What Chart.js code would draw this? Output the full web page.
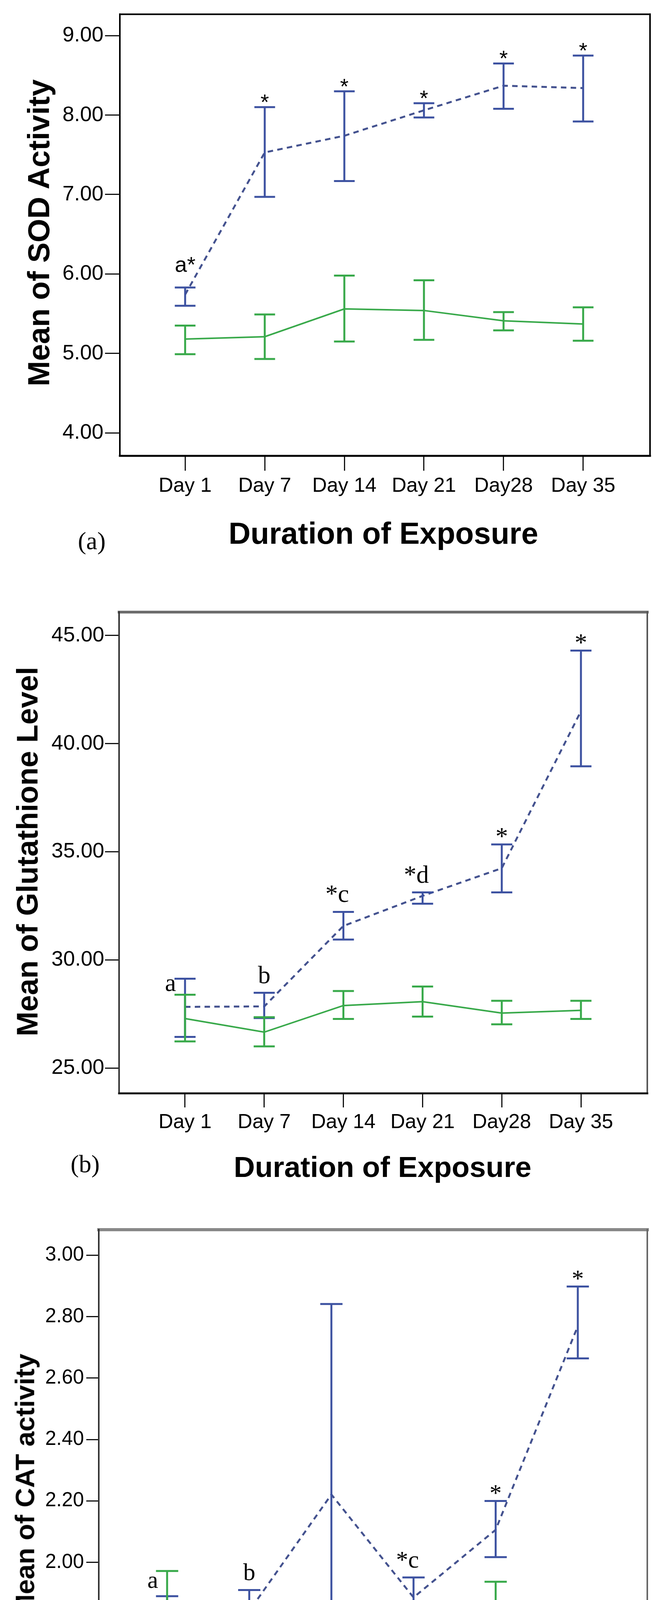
<!DOCTYPE html>
<html>
<head>
<meta charset="utf-8">
<title>SOD, GSH and CAT over exposure time</title>
<script src="https://cdn.jsdelivr.net/npm/chart.js@4.4.1/dist/chart.umd.min.js"></script>
<style>
  body { margin: 0; background: #fff; }
  #page { position: relative; width: 1688px; height: 4699px; overflow: hidden; background: #fff; }
  canvas { position: absolute; left: 0; }
  .txt { position: absolute; white-space: nowrap; line-height: 1; color: #000; transform: translate(-50%, -50%); }
  .xt { font-family: "Liberation Sans", Arial, sans-serif; font-weight: bold; }
  .yt { font-family: "Liberation Sans", Arial, sans-serif; font-weight: bold; transform: translate(-50%, -50%) rotate(-90deg); }
  .pl { font-family: "Liberation Serif", "Times New Roman", serif; }
</style>
</head>
<body>
<div id="page">
  <canvas id="chartA" width="1688" height="1300" style="top:0px"></canvas>
  <canvas id="chartB" width="1688" height="1480" style="top:1450px"></canvas>
  <canvas id="chartC" width="1688" height="1540" style="top:3050px"></canvas>

  <div class="txt yt" style="left:99px; top:596px; font-size:78px">Mean of SOD Activity</div>
  <div class="txt xt" style="left:982px; top:1365px; font-size:78px">Duration of Exposure</div>
  <div class="txt pl" style="left:235px; top:1385px; font-size:64px">(a)</div>

  <div class="txt yt" style="left:70px; top:2180px; font-size:76px">Mean of Glutathione Level</div>
  <div class="txt xt" style="left:980px; top:2987px; font-size:75px">Duration of Exposure</div>
  <div class="txt pl" style="left:218px; top:2980px; font-size:64px">(b)</div>

  <div class="txt yt" style="left:64px; top:3802px; font-size:69px">Mean of CAT activity</div>
  <div class="txt xt" style="left:955px; top:4641px; font-size:70px">Duration of Exposure</div>
  <div class="txt pl" style="left:312px; top:4636px; font-size:62px">(c)</div>
</div>

<script>
// --- Data ---
const days = ['Day 1', 'Day 7', 'Day 14', 'Day 21', 'Day28', 'Day 35'];

// (a) SOD activity
const sodExpMean = [5.74, 7.53, 7.74, 8.06, 8.37, 8.34];
const sodExpHi   = [5.83, 8.10, 8.30, 8.15, 8.65, 8.75];
const sodExpLo   = [5.60, 6.97, 7.17, 7.97, 8.08, 7.92];
const sodCtlMean = [5.18, 5.21, 5.56, 5.54, 5.41, 5.37];
const sodCtlHi   = [5.35, 5.49, 5.98, 5.92, 5.52, 5.58];
const sodCtlLo   = [4.99, 4.93, 5.15, 5.17, 5.29, 5.16];
const sodTicks   = [4, 5, 6, 7, 8, 9];
const sodMarks   = ['a*', '*', '*', '*', '*', '*'];

// (b) Glutathione level
const gshExpMean = [27.83, 27.85, 31.57, 32.96, 34.24, 41.50];
const gshExpHi   = [29.13, 28.48, 32.22, 33.12, 35.34, 44.30];
const gshExpLo   = [26.44, 27.31, 30.94, 32.60, 33.12, 38.95];
const gshCtlMean = [27.29, 26.66, 27.89, 28.07, 27.54, 27.67];
const gshCtlHi   = [28.39, 27.35, 28.56, 28.77, 28.11, 28.11];
const gshCtlLo   = [26.23, 26.00, 27.27, 27.38, 27.02, 27.27];
const gshTicks   = [25, 30, 35, 40, 45];
const gshMarks   = ['a', 'b', '*c', '*d', '*', '*'];

// (c) CAT activity
const catExpMean = [1.802, 1.842, 2.221, 1.886, 2.106, 2.769];
const catExpHi   = [1.890, 1.910, 2.841, 1.951, 2.200, 2.898];
const catExpLo   = [1.708, 1.774, 1.604, 1.807, 2.017, 2.664];
const catCtlMean = [1.830, 1.687, 1.763, 1.697, 1.763, 1.749];
const catCtlHi   = [1.972, 1.811, 1.824, 1.721, 1.937, 1.850];
const catCtlLo   = [1.692, 1.562, 1.703, 1.666, 1.590, 1.642];
const catTicks   = [1.6, 1.8, 2.0, 2.2, 2.4, 2.6, 2.8, 3.0];
const catMarks   = ['a', 'b', '', '*c', '*', '*'];

const BLUE = '#3d52a1';
const BLUE_LINE = '#44528f';
const GREEN = '#38a94a';
const SANS = '"Liberation Sans", Arial, sans-serif';
const SERIF = '"Liberation Serif", "Times New Roman", serif';

// --- Plugins ---
// error bars from the hi/lo arrays stored on each dataset
const errorBars = {
    id: 'errorBars',
    afterDatasetsDraw(chart, args, opts) {
        const { ctx, scales: { x, y } } = chart;
        chart.data.datasets.forEach(ds => {
            ctx.save();
            ctx.strokeStyle = ds.barColor;
            ds.hi.forEach((hi, i) => {
                const px = x.getPixelForValue(i);
                const top = y.getPixelForValue(hi);
                const bot = y.getPixelForValue(ds.lo[i]);
                ctx.lineWidth = opts.stem;
                ctx.beginPath();
                ctx.moveTo(px, top);
                ctx.lineTo(px, bot);
                ctx.stroke();
                ctx.lineWidth = opts.capLine;
                ctx.beginPath();
                ctx.moveTo(px - opts.cap / 2, top);
                ctx.lineTo(px + opts.cap / 2, top);
                ctx.moveTo(px - opts.cap / 2, bot);
                ctx.lineTo(px + opts.cap / 2, bot);
                ctx.stroke();
            });
            ctx.restore();
        });
    }
};

// significance letters above the exposed group's bars
const marks = {
    id: 'marks',
    afterDraw(chart, args, o) {
        if (!o.labels) return;
        const { ctx, scales: { x, y } } = chart;
        const [exp, ctl] = chart.data.datasets;
        ctx.save();
        ctx.fillStyle = '#000';
        ctx.font = o.font;
        ctx.textBaseline = 'alphabetic';
        o.labels.forEach((t, i) => {
            if (!t) return;
            const px = x.getPixelForValue(i);
            const capE = y.getPixelForValue(exp.hi[i]);
            const capC = y.getPixelForValue(ctl.hi[i]);
            if (i === 0 && o.side) {
                ctx.textAlign = 'right';
                ctx.fillText(t, px - 23, (capE + capC) / 2 + 11);
                return;
            }
            let by = /[a-z]/.test(t) ? capE - o.letterGap : capE - o.starGap;
            if (i === 0 && o.firstDy) by = capE + o.firstDy;
            if (o.anchorLast) {
                const w = ctx.measureText(t).width;
                const lw = ctx.measureText(t.slice(-1)).width;
                ctx.textAlign = 'left';
                ctx.fillText(t, px - w + lw / 2, by);
            } else {
                ctx.textAlign = 'center';
                ctx.fillText(t, px, by);
            }
        });
        ctx.restore();
    }
};

// box round the plot area, each side styled on its own
const frame = {
    id: 'frame',
    afterDraw(chart, args, o) {
        const { ctx, chartArea: { left, right, top, bottom } } = chart;
        const line = (s, x1, y1, x2, y2) => {
            ctx.strokeStyle = s[0];
            ctx.lineWidth = s[1];
            ctx.beginPath();
            ctx.moveTo(x1, y1);
            ctx.lineTo(x2, y2);
            ctx.stroke();
        };
        ctx.save();
        ctx.lineCap = 'square';
        line(o.top, left, top, right, top);
        line(o.right, right, top, right, bottom);
        line(o.left, left, top, left, bottom);
        line(o.bottom, left, bottom, right, bottom);
        ctx.restore();
    }
};

// --- Chart builder ---
function makePanel(id, p) {
    const canvas = document.getElementById(id);
    const W = canvas.width, H = canvas.height;
    const pts = arr => arr.map((v, i) => ({ x: i, y: v }));

    return new Chart(canvas, {
        type: 'line',
        data: {
            datasets: [{
                data: pts(p.exp[0]),
                hi: p.exp[1], lo: p.exp[2],
                borderColor: BLUE_LINE, barColor: BLUE,
                borderWidth: 5, borderDash: [14, 11],
                pointRadius: 0, tension: 0, fill: false
            }, {
                data: pts(p.ctl[0]),
                hi: p.ctl[1], lo: p.ctl[2],
                borderColor: GREEN, barColor: GREEN,
                borderWidth: 4,
                pointRadius: 0, tension: 0, fill: false
            }]
        },
        options: {
            responsive: false,
            animation: false,
            events: [],
            layout: { padding: { left: 0, top: p.top, right: W - p.right, bottom: 0 } },
            scales: {
                x: {
                    type: 'linear', min: p.xMin, max: p.xMax,
                    afterBuildTicks: s => { s.ticks = days.map((d, i) => ({ value: i })); },
                    afterFit: s => { s.height = H - p.bottom; },
                    border: { display: false },
                    grid: { drawOnChartArea: false, drawTicks: true, tickLength: p.tickLen, tickWidth: 3, tickColor: '#111' },
                    ticks: {
                        callback: v => days[v], autoSkip: false, maxRotation: 0,
                        color: '#000', padding: p.xPad, font: { family: SANS, size: p.xFont }
                    }
                },
                y: {
                    type: 'linear', min: p.yMin, max: p.yMax,
                    afterBuildTicks: s => { s.ticks = p.yTicks.map(v => ({ value: v })); },
                    afterFit: s => { s.width = p.left; },
                    border: { display: false },
                    grid: { drawOnChartArea: false, drawTicks: true, tickLength: p.tickLen, tickWidth: 3, tickColor: '#111' },
                    ticks: {
                        callback: v => v.toFixed(2),
                        color: '#000', padding: p.yPad, font: { family: SANS, size: p.yFont }
                    }
                }
            },
            plugins: {
                legend: { display: false },
                tooltip: { enabled: false },
                errorBars: { stem: 5, capLine: 5, cap: p.cap },
                marks: p.marks,
                frame: p.frame
            }
        },
        plugins: [errorBars, marks, frame]
    });
}

// (a) SOD
makePanel('chartA', {
    left: 307, right: 1665, top: 33, bottom: 1167,
    xMin: -0.82, xMax: 5.84, yMin: 3.71, yMax: 9.27, yTicks: sodTicks,
    tickLen: 38, xPad: 8, yPad: 4, xFont: 52, yFont: 54, cap: 53,
    exp: [sodExpMean, sodExpHi, sodExpLo],
    ctl: [sodCtlMean, sodCtlHi, sodCtlLo],
    marks: { labels: sodMarks, font: '56px ' + SANS, letterGap: 0, starGap: -6, firstDy: -40 },
    frame: { top: ['#000', 4], right: ['#000', 4], left: ['#000', 4], bottom: ['#000', 5] }
});

// (b) Glutathione
makePanel('chartB', {
    left: 305, right: 1658, top: 117, bottom: 1349,
    xMin: -0.833, xMax: 5.838, yMin: 23.83, yMax: 46.08, yTicks: gshTicks,
    tickLen: 36, xPad: 7, yPad: 2, xFont: 52, yFont: 54, cap: 54,
    exp: [gshExpMean, gshExpHi, gshExpLo],
    ctl: [gshCtlMean, gshCtlHi, gshCtlLo],
    marks: { labels: gshMarks, font: '64px ' + SERIF, letterGap: 25, starGap: 0, side: true, anchorLast: true },
    frame: { top: ['#6a6a6a', 7], right: ['#555', 4], left: ['#333', 4], bottom: ['#111', 5] }
});

// (c) CAT
makePanel('chartC', {
    left: 253, right: 1658, top: 98, bottom: 1409,
    xMin: -0.832, xMax: 5.846, yMin: 1.416, yMax: 3.083, yTicks: catTicks,
    tickLen: 32, xPad: 11, yPad: 6, xFont: 48, yFont: 51, cap: 57,
    exp: [catExpMean, catExpHi, catExpLo],
    ctl: [catCtlMean, catCtlHi, catCtlLo],
    marks: { labels: catMarks, font: '62px ' + SERIF, letterGap: 25, starGap: 0, side: true, anchorLast: true },
    frame: { top: ['#888', 8], right: ['#666', 4], left: ['#333', 4], bottom: ['#222', 4] }
});
</script>
</body>
</html>
